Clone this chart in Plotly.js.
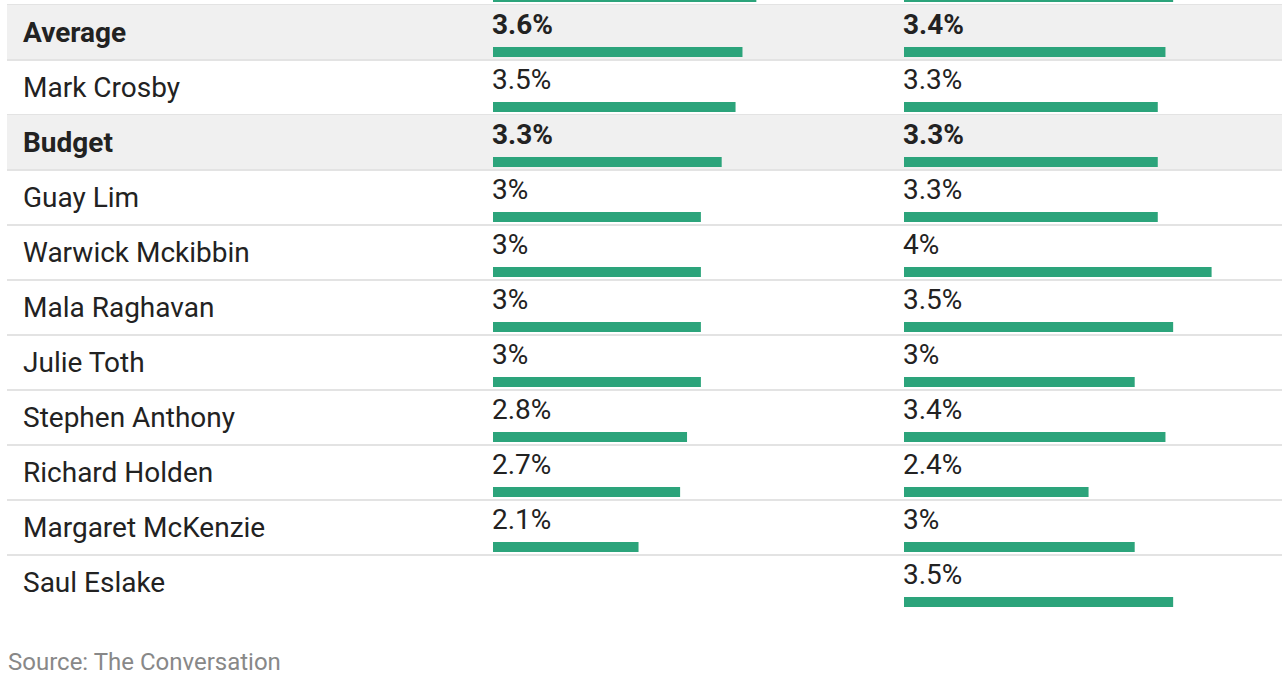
<!DOCTYPE html>
<html>
<head>
<meta charset="utf-8">
<script src="https://cdn.plot.ly/plotly-3.0.1.min.js"></script>
<style>html,body{margin:0;padding:0;background:#fff;}#chart{width:1282px;height:684px;}</style>
</head>
<body>
<div id="chart"></div>
<script>
// Row names (first row is cut off at the top of the reference; its name is not visible)
const names = ["", "Average", "Mark Crosby", "Budget", "Guay Lim", "Warwick Mckibbin", "Mala Raghavan", "Julie Toth", "Stephen Anthony", "Richard Holden", "Margaret McKenzie", "Saul Eslake"];
// Left column values (%)
const leftValues = [3.8, 3.6, 3.5, 3.3, 3, 3, 3, 3, 2.8, 2.7, 2.1, null];
// Right column values (%)
const rightValues = [3.5, 3.4, 3.3, 3.3, 3.3, 4, 3.5, 3, 3.4, 2.4, 3, 3.5];
// Highlighted (bold, shaded) rows
const highlighted = ["Average", "Budget"];
const sourceText = "Source: The Conversation";

const W = 1282, H = 684;
const ROW = 55;
// pixel p -> row units; row i centre at pixel 55*i - 22.5
const pToV = p => (p + 22.5) / ROW;
const green = "#2ca47b";
const textColor = "#222222";
const rows = names.map((_, i) => i);

const fmt = v => (v === null ? "" : (Number.isInteger(v) ? v + "%" : v.toFixed(1) + "%"));

const barCommon = {
  type: "bar", orientation: "h", y: rows, base: 0,
  offset: 14.5 / ROW, width: 10 / ROW,
  marker: {color: green, line: {width: 0}},
  hoverinfo: "skip", showlegend: false
};
const traces = [
  Object.assign({}, barCommon, {x: leftValues, xaxis: "x", yaxis: "y"}),
  Object.assign({}, barCommon, {x: rightValues, xaxis: "x2", yaxis: "y"})
];

const shapes = [];
const annotations = [];
names.forEach((n, i) => {
  const isHi = highlighted.includes(n);
  if (isHi) {
    shapes.push({type: "rect", xref: "paper", yref: "y", x0: 7 / W, x1: 1, y0: i - 0.5, y1: i + 0.5,
      fillcolor: "#f0f0f0", line: {width: 0}, layer: "below"});
  }
  if (i < names.length - 1) {
    shapes.push({type: "line", xref: "paper", yref: "y", x0: 7 / W, x1: 1, y0: i + 0.5, y1: i + 0.5,
      line: {color: "#e3e3e3", width: 2}, layer: "below"});
  }
  const wrap = s => (isHi ? "<b>" + s + "</b>" : s);
  if (n) {
    annotations.push({xref: "paper", yref: "y", x: 24 / W, y: i, xanchor: "left", yanchor: "middle",
      text: wrap(n), showarrow: false, xshift: -3, yshift: 0,
      font: {family: "Roboto", size: 28, color: textColor}});
  }
  [[leftValues, "x"], [rightValues, "x2"]].forEach(([arr, ax]) => {
    if (arr[i] === null) return;
    annotations.push({xref: ax, yref: "y", x: 0, y: i, xanchor: "left", yanchor: "middle",
      text: wrap(fmt(arr[i])), showarrow: false, xshift: -3, yshift: 8,
      font: {family: "Roboto", size: 28, color: textColor}});
  });
});
annotations.push({xref: "paper", yref: "paper", x: 8 / W, y: 1 - 662 / H, xanchor: "left", yanchor: "middle",
  text: sourceText, showarrow: false, xshift: -2,
  font: {family: "Roboto", size: 24, color: "#888888"}});

const axisOff = {showgrid: false, zeroline: false, showticklabels: false, showline: false, ticks: "", fixedrange: true};
const layout = {
  width: W, height: H,
  margin: {l: 0, r: 0, t: 0, b: 0, pad: 0},
  paper_bgcolor: "#ffffff", plot_bgcolor: "rgba(0,0,0,0)",
  barmode: "overlay",
  showlegend: false,
  xaxis: Object.assign({}, axisOff, {domain: [493 / W, 904 / W], range: [0, (904 - 493) / 69.3], anchor: "y"}),
  xaxis2: Object.assign({}, axisOff, {domain: [904 / W, 1], range: [0, (W - 904) / 76.9], anchor: "y"}),
  yaxis: Object.assign({}, axisOff, {domain: [0, 1], range: [pToV(H), pToV(0)], anchor: "x"}),
  shapes: shapes,
  annotations: annotations
};
Plotly.newPlot("chart", traces, layout, {displayModeBar: false, staticPlot: true});
</script>
</body>
</html>
